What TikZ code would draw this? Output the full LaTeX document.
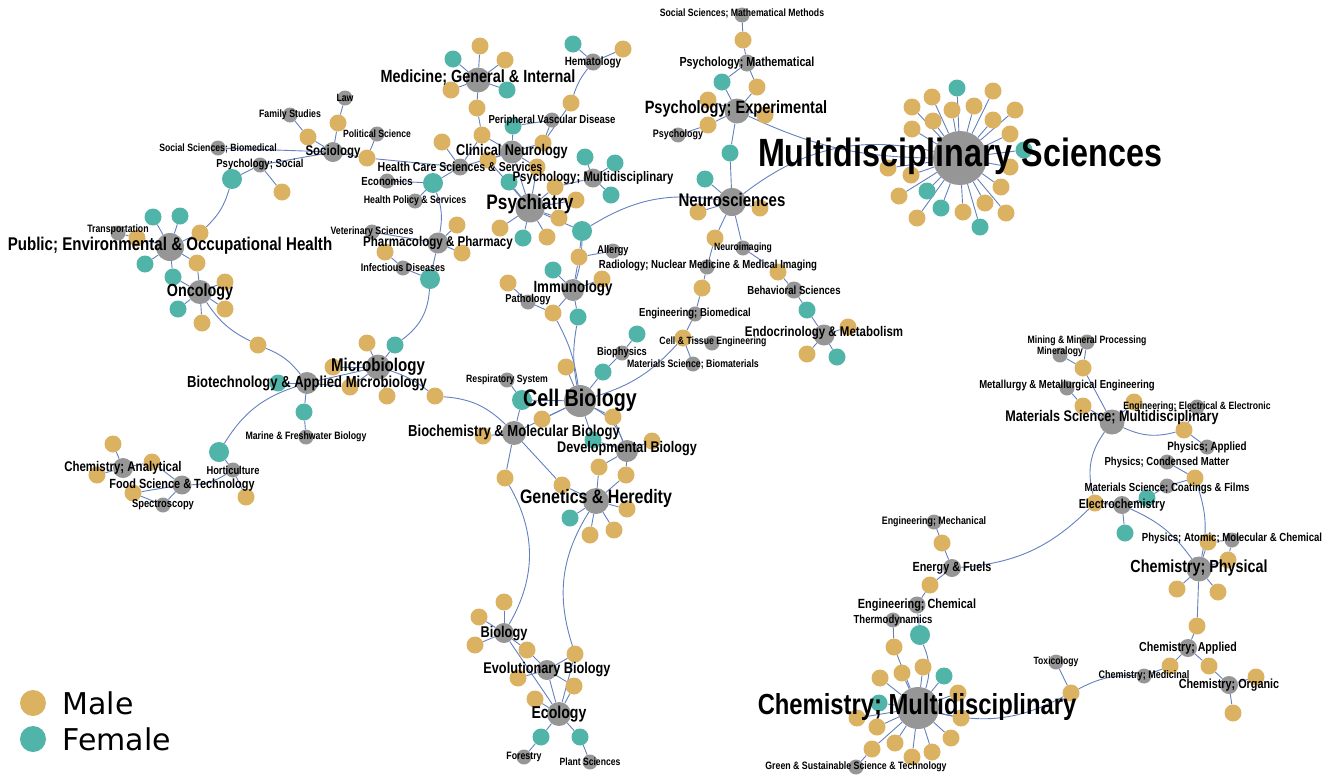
\documentclass[tikz,border=0pt]{standalone}
\usepackage{fontspec}
\setmainfont{Liberation Sans}[FakeStretch=0.82]
\newfontfamily\legendfont{DejaVu Sans}
\usetikzlibrary{positioning,backgrounds}
\definecolor{malegold}{RGB}{219,178,98}
\definecolor{femaleteal}{RGB}{80,180,168}
\definecolor{fieldgray}{RGB}{150,150,150}
\definecolor{linkblue}{RGB}{100,128,192}

\begin{document}
\begin{tikzpicture}[x=1pt, y=-1pt,
    male/.style={circle, fill=malegold, minimum size=17pt, inner sep=0pt},
    female/.style={circle, fill=femaleteal, minimum size=17pt, inner sep=0pt},
    field/.style={circle, fill=fieldgray, minimum size=#1, inner sep=0pt},
    field/.default=15pt,
    link/.style={draw=linkblue, line width=0.9pt},
    lab/.style={font=\fontsize{#1}{#1}\selectfont\bfseries, inner sep=0pt},
    lab/.default=10.6
]
    \useasboundingbox (0,0) rectangle (1325,780);

    % Research fields
    \begin{scope}[every node/.style={field}]
        \node (law) at (345,98) {};
        \node (fam) at (290,115) {};
        \node (pol) at (377,134) {};
        \node[minimum size=20pt] (soc) at (333,152) {};
        \node (ssb) at (218,148) {};
        \node (pss) at (260,165) {};
        \node (trans) at (118,233) {};
        \node[minimum size=28pt] (pub) at (170,247) {};
        \node[minimum size=24pt] (onc) at (200,292) {};
        \node (eco) at (387,181) {};
        \node[minimum size=17pt] (hcs) at (460,167) {};
        \node (hps) at (415,201) {};
        \node (vet) at (372,232) {};
        \node[minimum size=21pt] (pha) at (438,243) {};
        \node (inf) at (403,268) {};
        \node[minimum size=25pt] (med) at (478,80) {};
        \node[minimum size=17pt] (hem) at (593,62) {};
        \node (pvd) at (552,120) {};
        \node[minimum size=23pt] (cln) at (512,152) {};
        \node[minimum size=19pt] (psm) at (593,178) {};
        \node[minimum size=29pt] (psy) at (530,208) {};
        \node (all) at (613,251) {};
        \node (rad) at (707,267) {};
        \node (nim) at (743,248) {};
        \node[minimum size=28pt] (neu) at (732,202) {};
        \node[minimum size=25pt] (pex) at (737,111) {};
        \node (psyc) at (678,135) {};
        \node[minimum size=17pt] (pma) at (747,63) {};
        \node (ssm) at (742,15) {};
        \node[minimum size=54pt] (msc) at (960,158) {};
        \node[minimum size=22pt] (imm) at (573,290) {};
        \node (pat) at (528,302) {};
        \node (ebm) at (695,314) {};
        \node (cte) at (712,343) {};
        \node (mbm) at (693,364) {};
        \node (bph) at (622,353) {};
        \node[minimum size=17pt] (beh) at (794,290) {};
        \node[minimum size=21pt] (endo) at (824,335) {};
        \node (res) at (507,380) {};
        \node[minimum size=32pt] (cel) at (580,401) {};
        \node[minimum size=24pt] (bch) at (514,433) {};
        \node[minimum size=22pt] (dev) at (627,451) {};
        \node[minimum size=26pt] (gen) at (596,501) {};
        \node[minimum size=20pt] (biol) at (504,633) {};
        \node[minimum size=20pt] (evo) at (547,670) {};
        \node[minimum size=24pt] (ecol) at (559,714) {};
        \node (fors) at (524,757) {};
        \node (pla) at (590,762) {};
        \node[minimum size=25pt] (mic) at (378,367) {};
        \node[minimum size=22pt] (btm) at (307,383) {};
        \node (mfb) at (306,437) {};
        \node (hor) at (233,470) {};
        \node[minimum size=19pt] (fst) at (182,485) {};
        \node[minimum size=20pt] (cha) at (123,468) {};
        \node (spe) at (163,505) {};
        \node (mmp) at (1087,342) {};
        \node (mnr) at (1060,355) {};
        \node (met) at (1067,388) {};
        \node (eee) at (1197,407) {};
        \node[minimum size=25pt] (msm) at (1112,422) {};
        \node (pap) at (1207,447) {};
        \node (pcm) at (1167,462) {};
        \node (mcf) at (1167,486) {};
        \node[minimum size=18pt] (ele) at (1122,505) {};
        \node (pam) at (1232,540) {};
        \node[minimum size=25pt] (chp) at (1199,569) {};
        \node[minimum size=18pt] (chap) at (1188,648) {};
        \node[minimum size=18pt] (cho) at (1229,685) {};
        \node (chme) at (1144,676) {};
        \node (tox) at (1056,662) {};
        \node (emec) at (934,522) {};
        \node[minimum size=18pt] (enf) at (952,568) {};
        \node[minimum size=17pt] (ech) at (917,605) {};
        \node (the) at (893,620) {};
        \node[minimum size=42pt] (chm) at (918,708) {};
        \node (gst) at (856,767) {};
    \end{scope}

    % Male authors
    \begin{scope}[every node/.style={male}]
        \node (m1) at (338,123) {};
        \node (m2) at (308,137) {};
        \node (m3) at (367,158) {};
        \node (m4) at (282,192) {};
        \node (m5) at (200,233) {};
        \node (m6) at (137,238) {};
        \node (m7) at (197,263) {};
        \node (m8) at (225,282) {};
        \node (m9) at (225,309) {};
        \node (m10) at (202,323) {};
        \node (m11) at (258,345) {};
        \node (m12) at (480,46) {};
        \node (m13) at (505,60) {};
        \node (m14) at (451,90) {};
        \node (m15) at (477,108) {};
        \node (m16) at (482,135) {};
        \node (m17) at (623,49) {};
        \node (m18) at (571,103) {};
        \node (m19) at (543,143) {};
        \node (m20) at (442,142) {};
        \node (m21) at (488,160) {};
        \node (m22) at (537,167) {};
        \node (m23) at (555,187) {};
        \node (m24) at (576,200) {};
        \node (m25) at (559,218) {};
        \node (m26) at (500,228) {};
        \node (m27) at (547,237) {};
        \node (m28) at (457,225) {};
        \node (m29) at (462,253) {};
        \node (m30) at (385,252) {};
        \node (m31) at (579,257) {};
        \node (m32) at (508,283) {};
        \node (m33) at (602,279) {};
        \node (m34) at (553,313) {};
        \node (m35) at (743,40) {};
        \node (m36) at (757,87) {};
        \node (m37) at (708,100) {};
        \node (m38) at (708,125) {};
        \node (m39) at (765,115) {};
        \node (m40) at (698,212) {};
        \node (m41) at (760,208) {};
        \node (m42) at (715,238) {};
        \node (m43) at (778,272) {};
        \node (m44) at (702,288) {};
        \node (m45) at (683,338) {};
        \node (m46) at (848,327) {};
        \node (m47) at (807,354) {};
        \node (m48) at (566,367) {};
        \node (m49) at (542,419) {};
        \node (m50) at (613,417) {};
        \node (m51) at (483,436) {};
        \node (m52) at (435,396) {};
        \node (m53) at (652,441) {};
        \node (m54) at (599,467) {};
        \node (m55) at (626,475) {};
        \node (m56) at (505,478) {};
        \node (m57) at (562,485) {};
        \node (m58) at (627,509) {};
        \node (m59) at (614,530) {};
        \node (m60) at (590,535) {};
        \node (m61) at (504,602) {};
        \node (m62) at (479,617) {};
        \node (m63) at (475,645) {};
        \node (m64) at (527,650) {};
        \node (m65) at (575,654) {};
        \node (m66) at (518,678) {};
        \node (m67) at (574,686) {};
        \node (m68) at (535,699) {};
        \node (m69) at (367,343) {};
        \node (m70) at (333,367) {};
        \node (m71) at (350,387) {};
        \node (m72) at (387,396) {};
        \node (m73) at (113,444) {};
        \node (m74) at (152,462) {};
        \node (m75) at (97,475) {};
        \node (m76) at (133,493) {};
        \node (m77) at (246,497) {};
        \node (m78) at (1083,368) {};
        \node (m79) at (1083,406) {};
        \node (m80) at (1134,402) {};
        \node (m81) at (1184,430) {};
        \node (m82) at (1195,478) {};
        \node (m83) at (1095,503) {};
        \node (m84) at (1208,542) {};
        \node (m85) at (1228,560) {};
        \node (m86) at (1177,589) {};
        \node (m87) at (1218,592) {};
        \node (m88) at (1197,626) {};
        \node (m89) at (1170,666) {};
        \node (m90) at (1209,666) {};
        \node (m91) at (1256,677) {};
        \node (m92) at (1233,713) {};
        \node (m93) at (1071,693) {};
        \node (m94) at (942,543) {};
        \node (m95) at (930,585) {};
        \node (m96) at (894,647) {};
    \end{scope}

    % Female authors
    \begin{scope}[every node/.style={female}]
        \node[minimum size=20pt] (f1) at (232,179) {};
        \node (f2) at (153,217) {};
        \node (f3) at (180,216) {};
        \node (f4) at (145,264) {};
        \node (f5) at (173,277) {};
        \node (f6) at (178,309) {};
        \node[minimum size=20pt] (f7) at (433,183) {};
        \node[minimum size=20pt] (f8) at (430,279) {};
        \node (f9) at (453,59) {};
        \node (f10) at (507,90) {};
        \node (f11) at (573,44) {};
        \node (f12) at (513,126) {};
        \node (f13) at (585,157) {};
        \node (f14) at (615,163) {};
        \node (f15) at (611,195) {};
        \node (f16) at (509,182) {};
        \node (f17) at (523,238) {};
        \node[minimum size=20pt] (f18) at (582,231) {};
        \node (f19) at (730,153) {};
        \node (f20) at (722,82) {};
        \node (f21) at (705,179) {};
        \node (f22) at (553,270) {};
        \node (f23) at (578,317) {};
        \node (f24) at (637,334) {};
        \node (f25) at (603,372) {};
        \node[minimum size=20pt] (f26) at (522,400) {};
        \node (f27) at (593,440) {};
        \node (f28) at (570,518) {};
        \node (f29) at (541,737) {};
        \node (f30) at (580,737) {};
        \node (f31) at (395,345) {};
        \node (f32) at (278,383) {};
        \node (f33) at (304,412) {};
        \node[minimum size=20pt] (f34) at (219,452) {};
        \node (f35) at (807,310) {};
        \node (f36) at (837,357) {};
        \node (f37) at (1147,498) {};
        \node (f38) at (1125,533) {};
        \node[minimum size=20pt] (f39) at (920,635) {};
    \end{scope}

    % Hub satellites
    \foreach \x/\y [count=\i] in {932/97, 993/91, 912/107, 952/110, 974/106, 1015/110, 933/121,
        993/120, 912/129, 1010/134, 1010/167, 888/168, 911/175, 1001/187, 899/196, 985/203,
        963/212, 1006/213, 917/218}
        \node[male] (ms\i) at (\x,\y) {};
    \foreach \x/\y [count=\i] in {957/88, 1024/150, 927/191, 941/208, 980/227}
        \node[female] (fs\i) at (\x,\y) {};
    \foreach \x/\y [count=\i] in {923/667, 902/673, 880/678, 958/693, 857/718, 961/718, 877/727,
        951/738, 895/743, 872/749, 932/752, 912/757}
        \node[male] (mc\i) at (\x,\y) {};
    \foreach \x/\y [count=\i] in {944/676, 879/703}
        \node[female] (fc\i) at (\x,\y) {};

    % Links
    \begin{scope}[on background layer]
        \foreach \a/\b in {law/m1, m1/soc, fam/m2, m2/soc, pol/m3, m3/soc, ssb/soc, pss/soc, pss/m4, f1/pss,
            pub/m5, pub/f2, pub/f3, pub/m6, m6/trans, pub/f4, pub/m7, pub/f5, m7/onc, f5/onc,
            onc/m8, onc/m9, onc/f6, onc/m10,
            m3/hcs, eco/f7, hps/f7, f7/hcs, m20/hcs, m16/hcs, hcs/cln,
            pha/m28, pha/m29, vet/pha, m30/inf, inf/f8, pha/f8, f31/mic,
            med/m12, med/f9, med/m13, med/m14, med/f10, med/m15, m15/m16, m16/cln,
            hem/f11, hem/m17, m18/m19, m19/cln, pvd/f12, f12/cln, pvd/m19,
            psm/f13, psm/f14, psm/f15, psm/m23, m23/psy,
            psy/cln, psy/m21, m21/cln, psy/f16, psy/m24, psy/m25, psy/m26, psy/f17, psy/m27,
            psy/f18, psy/m22, m22/cln, f18/m31, m31/all, m31/imm,
            imm/f22, m32/pat, pat/m34, imm/m34, imm/m33, imm/f23,
            pex/m37, pex/m38, pex/m39, psyc/m38, pex/f19, f19/neu, pma/m36, m36/pex, pma/f20, f20/pex,
            ssm/m35, m35/pma,
            neu/f21, neu/m40, neu/m41, neu/nim, neu/m42, m42/rad, nim/m43, m43/beh, beh/f35,
            f35/endo, endo/m46, endo/m47, endo/f36,
            rad/m44, m44/ebm, ebm/m45, m45/cte, m45/mbm,
            cel/m48, bph/f24, bph/f25, f25/cel, res/f26, f26/cel, f26/bch, cel/m49, cel/m50, m50/dev,
            cel/bch, cel/f27, f27/dev,
            bch/m51, bch/m56, bch/m57, m57/gen, dev/m53, dev/m54, dev/m55, m54/gen, m55/gen,
            gen/f28, gen/m58, gen/m59, gen/m60,
            biol/m61, biol/m62, biol/m63, biol/m64, m64/evo, biol/ecol, m65/evo, m65/ecol,
            evo/m66, evo/m67, m67/ecol, evo/ecol, m68/ecol, ecol/f29, f29/fors, ecol/f30, f30/pla,
            mic/m69, mic/m70, mic/m71, mic/m72, mic/btm, m71/btm, btm/f32, btm/f33, f33/mfb,
            f34/hor, fst/m74, m74/cha, cha/m73, cha/m75, fst/m76, m76/spe, fst/spe, hor/m77,
            mmp/m78, mnr/m78, m78/msm, met/m79, m79/msm, msm/m80, m81/eee, m81/pap, pcm/m82,
            mcf/m82, m83/ele, ele/f37, f37/mcf, ele/f38, pam/m84, m84/chp, pam/m85, m85/chp,
            chp/m86, chp/m87, chp/m88, m88/chap, chap/m89, m89/chme, chap/m90, m90/cho,
            cho/m91, cho/m92, tox/m93,
            emec/m94, m94/enf, enf/m95, m95/ech, ech/f39, the/m96, m96/chm, gst/mc10}
            \draw[link] (\a) -- (\b);
        \foreach \i in {1,...,19} \draw[link] (msc) -- (ms\i);
        \foreach \i in {1,...,5} \draw[link] (msc) -- (fs\i);
        \foreach \i in {1,...,12} \draw[link] (chm) -- (mc\i);
        \foreach \i in {1,2} \draw[link] (chm) -- (fc\i);
        \draw[link] (m5) to[bend right=15] (f1);
        \draw[link] (onc) to[bend right=15] (m11);
        \draw[link] (m11) to[bend left=15] (btm);
        \draw[link] (f7) to[bend left=15] (pha);
        \draw[link] (f8) to[bend left=25] (f31);
        \draw[link] (hem) to[bend right=10] (m18);
        \draw[link] (f18) to[bend left=20] (neu);
        \draw[link] (f18) to[bend left=8] (imm);
        \draw[link] (pex) to[bend right=12] (msc);
        \draw[link] (neu) to[bend left=25] (msc);
        \draw[link] (m45) to[bend left=15] (cel);
        \draw[link] (m34) to[bend left=10] (cel);
        \draw[link] (f23) to[bend right=10] (cel);
        \draw[link] (cel) to[bend left=20] (dev);
        \draw[link] (m52) to[bend left=20] (bch);
        \draw[link] (mic) to[bend left=10] (m52);
        \draw[link] (m56) to[bend left=30] (biol);
        \draw[link] (gen) to[bend right=25] (m65);
        \draw[link] (btm) to[bend right=20] (f34);
        \draw[link] (hor) to[bend left=15] (fst);
        \draw[link] (msm) to[bend right=25] (m83);
        \draw[link] (msm) to[bend right=20] (m81);
        \draw[link] (m82) to[bend left=15] (chp);
        \draw[link] (ele) to[bend left=15] (chp);
        \draw[link] (m83) to[bend left=20] (enf);
        \draw[link] (chme) to[bend right=15] (m93);
        \draw[link] (m93) to[bend left=20] (chm);
        \draw[link] (f39) to[bend left=20] (chm);
    \end{scope}

    % Field names
    \node[lab] (tlaw) at (law) {Law};
    \node[lab=10.7] (tfam) at (fam) {Family Studies};
    \node[lab=10.5] (tpol) at (pol) {Political Science};
    \node[lab=14] (tsoc) at (soc) {Sociology};
    \node[lab] (tssb) at (ssb) {Social Sciences; Biomedical};
    \node[lab=11.6] (tpss) at (pss) {Psychology; Social};
    \node[lab=10.7] (ttrans) at (118,230) {Transportation};
    \node[lab=18.4] (tpub) at (170,246) {Public; Environmental \& Occupational Health};
    \node[lab=17.5] (tonc) at (onc) {Oncology};
    \node[lab=11.7] (teco) at (eco) {Economics};
    \node[lab=12.9] (thcs) at (hcs) {Health Care Sciences \& Services};
    \node[lab=10.7] (thps) at (hps) {Health Policy \& Services};
    \node[lab=10.7] (tvet) at (vet) {Veterinary Sciences};
    \node[lab=14.1] (tpha) at (pha) {Pharmacology \& Pharmacy};
    \node[lab=11] (tinf) at (inf) {Infectious Diseases};
    \node[lab=17.6] (tmed) at (478,77) {Medicine; General \& Internal};
    \node[lab=12] (them) at (hem) {Hematology};
    \node[lab=11.6] (tpvd) at (pvd) {Peripheral Vascular Disease};
    \node[lab=15.5] (tcln) at (cln) {Clinical Neurology};
    \node[lab=13.9] (tpsm) at (psm) {Psychology; Multidisciplinary};
    \node[lab=21] (tpsy) at (530,204) {Psychiatry};
    \node[lab=11.2] (tall) at (all) {Allergy};
    \node[lab=11.7] (trad) at (708,265) {Radiology; Nuclear Medicine \& Medical Imaging};
    \node[lab=10.5] (tnim) at (nim) {Neuroimaging};
    \node[lab=18.3] (tneu) at (732,200) {Neurosciences};
    \node[lab=17.8] (tpex) at (736,109) {Psychology; Experimental};
    \node[lab=10.9] (tpsyc) at (psyc) {Psychology};
    \node[lab=13.1] (tpma) at (pma) {Psychology; Mathematical};
    \node[lab] (tssm) at (742,13) {Social Sciences; Mathematical Methods};
    \node[lab=39.4] (tmsc) at (960,156) {Multidisciplinary Sciences};
    \node[lab=16.2] (timm) at (573,288) {Immunology};
    \node[lab=11.4] (tpat) at (528,300) {Pathology};
    \node[lab=11.6] (tebm) at (ebm) {Engineering; Biomedical};
    \node[lab] (tcte) at (713,342) {Cell \& Tissue Engineering};
    \node[lab=10.7] (tmbm) at (mbm) {Materials Science; Biomaterials};
    \node[lab=11.4] (tbph) at (bph) {Biophysics};
    \node[lab=11.7] (tbeh) at (beh) {Behavioral Sciences};
    \node[lab=14] (tendo) at (824,333) {Endocrinology \& Metabolism};
    \node[lab] (tres) at (res) {Respiratory System};
    \node[lab=24] (tcel) at (580,400) {Cell Biology};
    \node[lab=15.9] (tbch) at (514,432) {Biochemistry \& Molecular Biology};
    \node[lab=15.4] (tdev) at (627,449) {Developmental Biology};
    \node[lab=19.5] (tgen) at (596,498) {Genetics \& Heredity};
    \node[lab=15.6] (tbiol) at (biol) {Biology};
    \node[lab=15.5] (tevo) at (evo) {Evolutionary Biology};
    \node[lab=17.2] (tecol) at (ecol) {Ecology};
    \node[lab=10.7] (tfors) at (fors) {Forestry};
    \node[lab=10.5] (tpla) at (pla) {Plant Sciences};
    \node[lab=18.4] (tmic) at (mic) {Microbiology};
    \node[lab=15.9] (tbtm) at (btm) {Biotechnology \& Applied Microbiology};
    \node[lab=10.7] (tmfb) at (mfb) {Marine \& Freshwater Biology};
    \node[lab=11.4] (thor) at (hor) {Horticulture};
    \node[lab=13.3] (tfst) at (fst) {Food Science \& Technology};
    \node[lab=14] (tcha) at (cha) {Chemistry; Analytical};
    \node[lab=11.4] (tspe) at (spe) {Spectroscopy};
    \node[lab] (tmmp) at (1087,341) {Mining \& Mineral Processing};
    \node[lab] (tmnr) at (1060,352) {Mineralogy};
    \node[lab=11.6] (tmet) at (1067,386) {Metallurgy \& Metallurgical Engineering};
    \node[lab] (teee) at (eee) {Engineering; Electrical \& Electronic};
    \node[lab=15.4] (tmsm) at (1112,418) {Materials Science; Multidisciplinary};
    \node[lab=12] (tpap) at (pap) {Physics; Applied};
    \node[lab=11.6] (tpcm) at (pcm) {Physics; Condensed Matter};
    \node[lab=11.7] (tmcf) at (1167,488) {Materials Science; Coatings \& Films};
    \node[lab=13] (tele) at (ele) {Electrochemistry};
    \node[lab=11.7] (tpam) at (1232,538) {Physics; Atomic; Molecular \& Chemical};
    \node[lab=17.5] (tchp) at (1199,568) {Chemistry; Physical};
    \node[lab=13] (tchap) at (chap) {Chemistry; Applied};
    \node[lab=13.2] (tcho) at (cho) {Chemistry; Organic};
    \node[lab=11] (tchme) at (chme) {Chemistry; Medicinal};
    \node[lab=10.5] (ttox) at (tox) {Toxicology};
    \node[lab=10.8] (temec) at (emec) {Engineering; Mechanical};
    \node[lab=13.2] (tenf) at (enf) {Energy \& Fuels};
    \node[lab=13.3] (tech) at (ech) {Engineering; Chemical};
    \node[lab=11.6] (tthe) at (the) {Thermodynamics};
    \node[lab=29] (tchm) at (917,707) {Chemistry; Multidisciplinary};
    \node[lab=10.7] (tgst) at (gst) {Green \& Sustainable Science \& Technology};

    % Legend
    \node[male, minimum size=26pt] (keym) at (33,703) {};
    \node[female, minimum size=26pt] (keyf) at (33,739) {};
    \node[right=16pt of keym, inner sep=0pt, font=\legendfont\fontsize{30}{30}\selectfont] (tkeym) {Male};
    \node[right=16pt of keyf, inner sep=0pt, font=\legendfont\fontsize{30}{30}\selectfont] (tkeyf) {Female};
\end{tikzpicture}
\end{document}
